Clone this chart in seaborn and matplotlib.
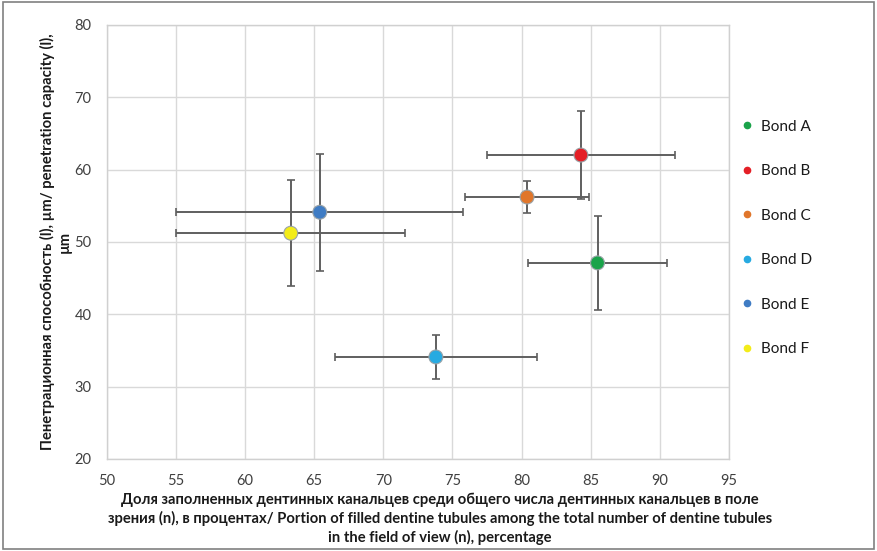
import numpy as np
import pandas as pd
import matplotlib
matplotlib.use("Agg")
import matplotlib.pyplot as plt
from matplotlib.lines import Line2D
from matplotlib.patches import Rectangle
import seaborn as sns

# values
bonds = ['Bond A', 'Bond B', 'Bond C', 'Bond D', 'Bond E', 'Bond F']
filled = [85.5, 84.3, 80.4, 73.8, 65.4, 63.3]
filled_err = [5.0, 6.8, 4.5, 7.3, 10.4, 8.3]
penetration = [47.1, 62.0, 56.2, 34.1, 54.1, 51.2]
penetration_err = [6.5, 6.1, 2.2, 3.0, 8.1, 7.3]
colors = ['#1aa34a', '#e41f26', '#e0762b', '#27aae1', '#3f7cc4', '#f3ec19']

x_ticks = [50, 55, 60, 65, 70, 75, 80, 85, 90, 95]
y_ticks = [20, 30, 40, 50, 60, 70, 80]

xlabel = ("Доля заполненных дентинных канальцев среди общего числа дентинных канальцев в поле\n"
          "зрения (n), в процентах/ Portion of filled dentine tubules among the total number of dentine tubules\n"
          "in the field of view (n), percentage")
ylabel = "Пенетрационная способность (l), µm/ penetration capacity (l),\nµm"

data = pd.DataFrame({'bond': bonds, 'filled': filled, 'penetration': penetration})

sns.set_style('white')
plt.rcParams['font.family'] = ['Lato', 'DejaVu Sans']

fig = plt.figure(figsize=(8.77, 5.51), dpi=100)
ax = fig.add_axes([0.122, 0.167, 0.709, 0.788])

# error bars first so the dots sit on top
ax.errorbar(filled, penetration, xerr=filled_err, yerr=penetration_err,
            fmt='none', ecolor='#5f5f5f', elinewidth=1.4, capsize=3.2, capthick=1.2, zorder=2)

sns.scatterplot(data=data, x='filled', y='penetration', hue='bond', palette=colors,
                s=100, edgecolor='#9aa3a8', linewidth=0.8, legend=False, ax=ax, zorder=3)

ax.set_xlim(50, 95)
ax.set_ylim(20, 80)
ax.set_xticks(x_ticks)
ax.set_yticks(y_ticks)
ax.tick_params(axis='both', length=0, labelsize=10.5, colors='#404040', pad=11)
ax.grid(True, color='#d9d9d9', linewidth=1)
ax.set_axisbelow(True)
for sp in ax.spines.values():
    sp.set_color('#d0d0d0')
    sp.set_linewidth(1)

ax.set_xlabel(xlabel, fontsize=10.6, fontweight='bold', color='#1a1a1a', linespacing=1.35)
ax.xaxis.set_label_coords(0.535, -0.077, transform=ax.transAxes)
ax.xaxis.label.set_verticalalignment('top')
ax.set_ylabel(ylabel, fontsize=10.6, fontweight='bold', color='#1a1a1a', linespacing=1.3, labelpad=2)

handles = [Line2D([0], [0], marker='o', linestyle='none', markersize=4.5,
                  markerfacecolor=c, markeredgecolor=c) for c in colors]
fig.legend(handles, bonds, loc='upper left', bbox_to_anchor=(0.829, 0.808), frameon=False,
           fontsize=11, labelspacing=2.0, handlelength=0.8, handletextpad=0.55,
           labelcolor='#1a1a1a')

# thin outer frame around the whole picture
fig.patches.append(Rectangle((0.003, 0.004), 0.994, 0.992, transform=fig.transFigure,
                             fill=False, edgecolor='#808080', linewidth=1.2))

fig.savefig('out.png', dpi=100)
